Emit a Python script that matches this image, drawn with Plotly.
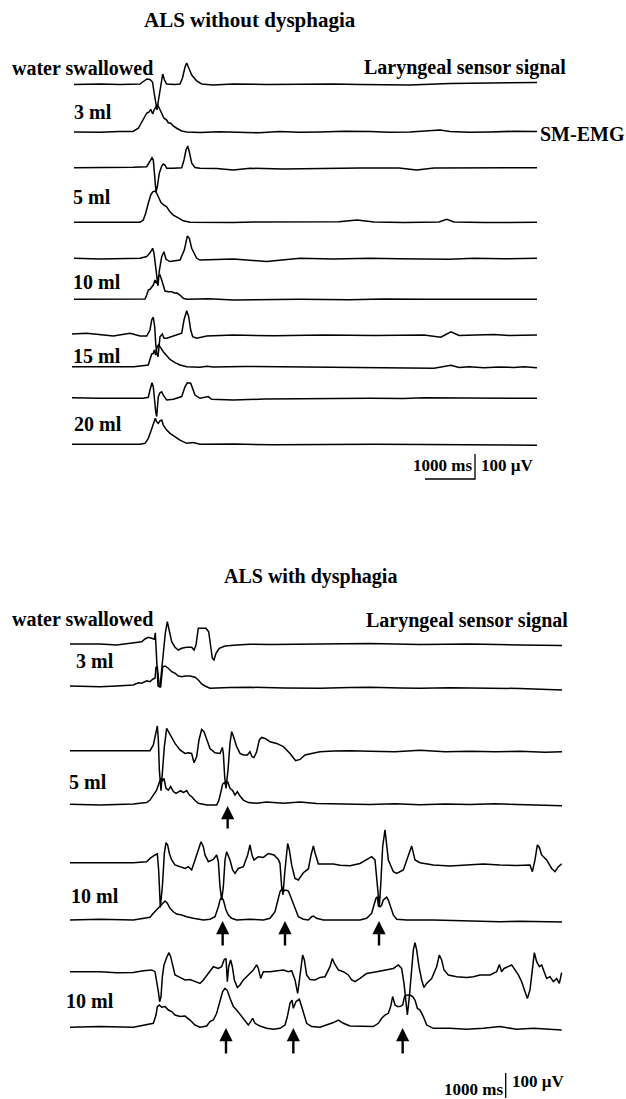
import plotly.graph_objects as go

# ===================== DATA (time in ms, amplitude in µV above each trace's baseline) =====================
# ---- ALS without dysphagia ----
top_lar_3ml_t = [0,520,920,1320,1400,1460,1520,1570,1600,1640,1660,1690,1740,1774,1810,1850,2020,2120,2170,2220,2254,2286,2354,2454,2554,2780,3180,3860,4520,5180,5720,6720,7520,8520,9260]
top_lar_3ml_v = [-2,0,-2,0,12,20,18,8,-32,-96,-104,-64,8,40,16,0,-2,0,24,68,84,68,36,12,0,-4,0,-2,0,0,-2,-4,2,4,6]
top_emg_3ml_t = [0,520,900,1180,1286,1354,1400,1454,1506,1534,1574,1600,1640,1666,1706,1754,1800,1854,1886,1934,1986,2054,2154,2254,2520,2900,3320,3700,4120,4500,4920,5400,5920,6300,6720,7120,7320,7520,7900,8320,8800,9260]
top_emg_3ml_v = [0,-1,2,2,15,41,59,75,81,91,72,88,101,112,95,75,55,48,37,35,24,15,4,0,-2,1,0,-3,2,-1,0,3,2,-1,0,4,8,2,-1,0,3,2]
top_lar_5ml_t = [0,520,1180,1454,1520,1560,1586,1606,1626,1640,1666,1706,1754,1786,1820,1854,1986,2154,2200,2240,2274,2306,2354,2420,2520,2854,3186,3520,4186,4920,5720,6500,6854,7200,8000,8600,9260]
top_lar_5ml_v = [1,1,3,5,25,41,32,-8,-61,-95,-75,-21,8,16,12,-1,-1,1,32,72,88,65,19,2,-1,-2,-8,-1,-4,-1,0,0,-8,0,1,-1,1]
top_emg_5ml_t = [0,520,1320,1386,1434,1486,1534,1574,1620,1654,1694,1740,1800,1854,1920,1986,2086,2186,2320,2800,3186,3600,4000,4600,5300,5660,6000,6600,7300,7454,7600,8200,8800,9260]
top_emg_5ml_v = [0,-1,0,9,36,76,109,122,125,116,96,79,69,62,42,29,18,6,0,-2,-1,1,1,-1,2,9,1,-1,1,12,1,-1,1,0]
top_lar_10ml_t = [0,520,1320,1454,1520,1574,1600,1626,1654,1680,1706,1754,1800,1840,1920,2120,2206,2266,2306,2354,2454,2520,2854,3186,3854,4520,5180,5920,6500,7000,7500,8000,8600,9260]
top_lar_10ml_v = [0,-3,0,7,22,40,20,-20,-60,-110,-50,6,26,-4,-13,-7,33,89,80,40,0,-7,-5,-3,-13,0,-3,0,-2,-3,-4,0,-2,0]
top_emg_10ml_t = [0,520,1420,1454,1486,1520,1554,1586,1620,1654,1686,1720,1754,1786,1820,1886,1954,2020,2054,2120,2186,2254,2700,3186,3800,4520,5500,6200,7000,7800,8600,9260]
top_emg_10ml_v = [0,0,1,17,37,40,48,57,77,64,90,97,77,57,33,30,30,24,26,17,4,0,2,-3,-1,0,-2,1,0,-1,1,0]
top_lar_15ml_t = [-40,254,786,986,1120,1320,1454,1520,1554,1586,1614,1634,1654,1680,1720,1766,1800,1854,1986,2154,2200,2254,2294,2334,2374,2454,2654,3186,4000,5000,6000,7000,7334,7540,7700,8000,8400,8700,9260]
top_lar_15ml_v = [4,7,-4,4,7,-4,-4,20,60,71,33,-33,-73,-87,-7,4,-13,-13,-4,7,60,97,73,20,-7,-13,-4,0,-3,0,-2,0,-9,13,-2,0,2,-2,0]
top_emg_15ml_t = [-40,600,1200,1486,1520,1554,1586,1606,1634,1654,1686,1720,1786,1854,1920,2020,2120,2254,2520,2660,2780,3400,4000,4600,5180,6000,6600,7200,7540,7700,7900,8200,8500,8800,9000,9260]
top_emg_15ml_v = [0,1,0,7,34,51,53,67,47,73,87,80,60,43,29,16,7,0,-2,2,-1,1,0,-1,-3,-3,-4,-6,6,-3,0,-4,-1,-3,0,-4]
top_lar_20ml_t = [-40,520,1386,1486,1520,1560,1586,1606,1634,1654,1686,1720,1754,1786,1854,1986,2154,2220,2266,2334,2374,2420,2520,2686,2754,3186,3800,4520,5200,5920,6600,7000,7800,8500,9260]
top_lar_20ml_v = [2,0,0,4,33,62,46,-7,-53,-73,6,22,26,13,-7,-4,7,46,62,60,40,13,0,7,-4,-7,-3,-2,1,0,-1,2,1,0,0]
top_emg_20ml_t = [-40,600,1320,1420,1486,1534,1574,1600,1626,1654,1686,1720,1754,1786,1854,1920,2020,2120,2254,2386,2520,3200,4000,5000,6000,7000,8000,9260]
top_emg_20ml_v = [0,-1,0,4,24,50,70,90,104,90,84,94,97,77,57,44,30,17,4,7,0,1,-2,0,0,-1,-3,-4]

# ---- ALS with dysphagia ----
bot_lar_3ml_t = [0,600,934,1266,1434,1500,1566,1634,1686,1706,1734,1760,1800,1854,1906,1946,1986,2034,2100,2166,2234,2334,2434,2480,2520,2566,2634,2720,2774,2806,2846,2880,2920,2986,3100,3334,3600,4000,5000,6000,7000,8000,9000,9840]
bot_lar_3ml_v = [0,0,-4,3,9,20,27,23,19,45,-64,-168,-171,-64,43,89,49,9,-13,-24,-17,-13,-13,-24,-4,63,63,63,49,3,-57,-64,-37,-17,-8,-4,-1,-2,0,2,-2,0,-4,-6]
bot_emg_3ml_t = [0,600,934,1266,1366,1434,1534,1600,1654,1700,1720,1746,1786,1814,1854,1900,1966,2034,2100,2166,2234,2300,2400,2500,2566,2634,2700,2800,3200,3600,4300,5000,5600,6000,6600,7000,7600,8000,8600,9000,9840]
bot_emg_3ml_v = [0,-3,0,4,13,11,21,17,27,31,75,77,-3,-3,77,80,71,57,51,40,37,40,40,35,24,8,0,-9,-6,-5,-8,-9,-6,-5,-8,-9,-7,-8,-10,-10,-16]
bot_lar_5ml_t = [0,600,1267,1600,1667,1720,1747,1767,1787,1820,1853,1887,1933,2000,2100,2200,2300,2367,2433,2480,2533,2580,2633,2680,2733,2800,2900,3000,3047,3067,3093,3120,3160,3200,3233,3267,3333,3400,3467,3547,3600,3640,3680,3733,3787,3833,3900,4000,4133,4267,4400,4513,4600,4700,4833,5000,5267,5600,6000,6500,7000,7500,8000,8500,9000,9500,9840]
bot_lar_5ml_v = [0,0,-1,0,23,69,99,43,-77,-160,-77,16,89,63,29,3,-11,-8,-11,-48,-24,43,85,76,43,9,-8,-11,13,-11,-104,-151,-77,29,76,59,16,-11,-17,-17,-4,-24,-27,-4,43,53,49,36,29,16,-11,-40,-35,-17,-11,-4,-1,0,-2,-4,2,-4,-2,-4,-2,-6,-4]
bot_emg_5ml_t = [0,600,1267,1533,1600,1667,1733,1780,1820,1853,1880,1920,1967,2013,2067,2120,2167,2213,2267,2333,2387,2433,2500,2567,2733,2933,2980,3013,3053,3087,3120,3153,3200,3253,3300,3347,3400,3467,3567,3733,3933,4267,4600,4933,5600,6000,6500,7000,7500,8000,8500,9000,9500,9840]
bot_emg_5ml_v = [0,-3,1,7,17,37,57,84,104,95,104,64,57,71,51,44,51,55,47,55,37,31,15,4,-3,-3,17,51,81,87,77,91,64,55,37,51,33,17,7,4,9,4,9,3,1,-1,2,-2,1,-1,2,-2,-4,-6]
bot_lar_10ml_a_t = [0,600,933,1267,1533,1600,1700,1747,1773,1807,1847,1887,1920,1953,1987,2033,2100,2200,2300,2367,2433,2500,2567,2620,2667,2700,2767,2867,2933,2967,3000,3033,3067,3100,3133,3200,3253,3300,3367,3467,3553,3600,3640,3680,3767,3867,3967,4080,4167,4200,4233,4260,4293,4327,4353,4387,4433,4500,4567,4667,4767,4820,4867,4900,4967,5100,5267,5400,5600,5800,6033,6100,6147,6187,6220,6253,6300,6340,6367,6467,6533,6667,6800,6833,6900,7000,7267,7600,7933,8267,8600,8933,9200,9247,9300,9347,9387,9433,9533,9633,9700,9767,9833]
bot_lar_10ml_a_v = [0,0,3,0,4,17,31,35,-29,-179,-96,37,80,71,37,11,-9,-16,-23,-16,-29,11,57,84,64,31,4,13,31,4,-96,-149,-96,11,44,11,-29,-43,-23,-16,31,71,31,11,24,21,37,31,13,-3,-96,-129,-43,37,77,51,-9,-63,-69,-40,-25,30,67,40,-5,-5,-5,-10,-12,-3,24,11,-96,-176,-69,64,131,60,11,-36,-43,-29,51,67,11,0,-9,-13,-9,-5,-9,-11,-9,-36,11,71,61,31,11,-23,-36,-16,-5]
bot_emg_10ml_a_t = [0,600,1267,1533,1600,1667,1733,1787,1820,1867,1900,1947,2000,2067,2133,2233,2333,2467,2667,2800,2900,2967,3000,3033,3067,3120,3167,3233,3333,3600,3867,4000,4100,4167,4200,4247,4287,4320,4367,4400,4467,4520,4567,4667,4767,4833,4867,4933,5067,5600,5800,5933,6033,6080,6120,6147,6167,6200,6233,6267,6300,6333,6367,6413,6467,6533,6733,7267,7933,8600,9000,9400,9840]
bot_emg_10ml_a_v = [0,3,0,7,11,27,40,51,60,67,76,67,47,33,24,20,13,7,0,3,13,53,80,91,80,40,20,7,0,3,0,7,33,87,113,127,117,120,116,100,67,40,13,3,0,13,16,7,0,0,0,7,27,60,87,93,56,53,60,80,87,91,80,53,20,3,0,0,-3,-7,-5,-6,-8]
bot_lar_10ml_b_t = [0,600,933,1267,1467,1633,1700,1733,1767,1793,1820,1847,1880,1933,1980,2013,2053,2100,2200,2300,2400,2500,2600,2667,2767,2867,2967,3033,3080,3120,3147,3173,3213,3247,3287,3347,3400,3467,3567,3667,3733,3767,3813,3867,4000,4133,4267,4367,4433,4500,4553,4580,4620,4653,4687,4733,4800,4900,5000,5100,5200,5247,5287,5367,5467,5567,5633,5700,5800,5933,6133,6333,6467,6567,6633,6680,6720,6747,6787,6833,6867,6900,6933,6980,7033,7080,7133,7233,7333,7387,7433,7480,7567,7733,7933,8067,8200,8400,8533,8587,8633,8680,8767,8833,8900,8967,9033,9100,9147,9200,9253,9287,9333,9387,9433,9480,9533,9600,9667,9733,9787,9833]
bot_lar_10ml_b_v = [0,0,-4,-3,4,7,0,-33,-80,-120,-100,-20,27,57,76,60,20,-13,-23,-33,-31,-40,-47,-33,-7,20,13,20,47,53,-40,20,47,20,-33,-63,-53,-33,-13,7,27,13,-27,0,0,4,7,0,4,-33,-87,-47,20,67,47,-13,-31,-33,-23,-20,20,53,33,7,0,-13,-33,-40,-27,-7,0,7,13,27,13,-47,-113,-173,-100,20,87,116,87,20,-33,-63,-47,-27,20,67,47,7,-13,-20,-23,-20,-13,-13,0,29,0,13,20,27,7,-13,-40,-80,-107,-73,20,76,40,20,27,0,-27,-20,-40,-27,-47,-4]
bot_emg_10ml_b_t = [0,600,1267,1400,1533,1667,1720,1747,1787,1833,1900,1967,2033,2100,2200,2300,2400,2500,2600,2733,2800,2867,2933,3000,3053,3100,3147,3200,3267,3333,3413,3500,3567,3613,3653,3700,3800,3933,4067,4200,4300,4347,4400,4440,4467,4520,4587,4633,4680,4733,4833,5000,5267,5367,5467,5600,6067,6167,6233,6300,6367,6413,6453,6500,6547,6600,6653,6693,6747,6800,6853,6900,6947,7000,7067,7133,7267,7600,7933,8267,8600,8933,9267,9833]
bot_emg_10ml_b_v = [0,3,0,5,9,16,49,83,89,80,83,69,63,49,43,45,29,9,0,5,23,29,56,109,143,156,147,116,83,69,49,23,9,23,36,16,5,-4,-8,-4,9,43,96,109,76,103,112,83,49,16,3,0,19,29,16,5,3,16,36,49,56,83,123,89,83,83,89,125,129,129,123,109,76,69,43,9,-4,-4,-8,-4,3,-8,-4,-11]

# aspiration arrows (ms) under the bottom EMG traces
arrows_5ml_t = [3153]
arrows_10ml_a_t = [3053, 4300, 6180]
arrows_10ml_b_t = [3120, 4467, 6653]

# scale bars
scale_ms = 1000
scale_uv = 100

# ===================== LAYOUT (pixel placement) =====================
W, H = 626, 1099
UV_PER_PX = 4.0          # vertical: 100 µV = 25 px
MS_PER_PX = 20.0         # horizontal: 1000 ms = 50 px
TOP_X0, BOT_X0 = 74, 70  # pixel x of t = 0 in each panel

def yoff(px):
    return -UV_PER_PX * px

traces = [
    ("x", top_lar_3ml_t, top_lar_3ml_v, 84),
    ("x", top_emg_3ml_t, top_emg_3ml_v, 132),
    ("x", top_lar_5ml_t, top_lar_5ml_v, 168),
    ("x", top_emg_5ml_t, top_emg_5ml_v, 222.3),
    ("x", top_lar_10ml_t, top_lar_10ml_v, 258.3),
    ("x", top_emg_10ml_t, top_emg_10ml_v, 299.3),
    ("x", top_lar_15ml_t, top_lar_15ml_v, 335),
    ("x", top_emg_15ml_t, top_emg_15ml_v, 366.7),
    ("x", top_lar_20ml_t, top_lar_20ml_v, 398.3),
    ("x", top_emg_20ml_t, top_emg_20ml_v, 444.3),
    ("x2", bot_lar_3ml_t, bot_lar_3ml_v, 644),
    ("x2", bot_emg_3ml_t, bot_emg_3ml_v, 686),
    ("x2", bot_lar_5ml_t, bot_lar_5ml_v, 750.7),
    ("x2", bot_emg_5ml_t, bot_emg_5ml_v, 804.3),
    ("x2", bot_lar_10ml_a_t, bot_lar_10ml_a_v, 862.7),
    ("x2", bot_emg_10ml_a_t, bot_emg_10ml_a_v, 920),
    ("x2", bot_lar_10ml_b_t, bot_lar_10ml_b_v, 971.7),
    ("x2", bot_emg_10ml_b_t, bot_emg_10ml_b_v, 1027.3),
]

fig = go.Figure()
LINE = dict(color="black", width=1.5)
for xa, t, v, base in traces:
    off = yoff(base)
    fig.add_trace(go.Scatter(x=t, y=[off + a for a in v], xaxis=xa, yaxis="y",
                             mode="lines", line=LINE, hoverinfo="skip"))

# scale bars
top_bar_end = (475 - TOP_X0) * MS_PER_PX
top_bar_y = yoff(479)
fig.add_trace(go.Scatter(x=[top_bar_end - scale_ms, top_bar_end, top_bar_end],
                         y=[top_bar_y, top_bar_y, top_bar_y + scale_uv],
                         xaxis="x", yaxis="y", mode="lines",
                         line=dict(color="black", width=1.3), hoverinfo="skip"))
bot_bar_x = (505.7 - BOT_X0) * MS_PER_PX
bot_bar_y = yoff(1098)
fig.add_trace(go.Scatter(x=[bot_bar_x, bot_bar_x], y=[bot_bar_y, bot_bar_y + scale_uv],
                         xaxis="x2", yaxis="y", mode="lines",
                         line=dict(color="black", width=1.3), hoverinfo="skip"))

annotations = []
def arrow(t, tip_px, tail_px):
    annotations.append(dict(x=t, y=yoff(tip_px), ax=t, ay=yoff(tail_px),
                            xref="x2", yref="y", axref="x2", ayref="y",
                            text="", showarrow=True, arrowhead=2, arrowsize=1.1,
                            arrowwidth=2.4, arrowcolor="black"))
for t in arrows_5ml_t:
    arrow(t, 806, 830)
for t in arrows_10ml_a_t:
    arrow(t, 921, 947)
for t in arrows_10ml_b_t:
    arrow(t, 1028, 1055)

FONT = "Liberation Serif, Times New Roman, serif"
def label(txt, px, py, size=20, anchor="left"):
    annotations.append(dict(text=txt, x=px / W, y=1 - py / H, xref="paper", yref="paper",
                            xanchor=anchor, yanchor="middle", showarrow=False,
                            font=dict(family=FONT, size=size, color="black", weight="bold")))

label("ALS without dysphagia", 250, 20, 21, "center")
label("water swallowed", 10, 68)
label("Laryngeal sensor signal", 362, 68)
label("3 ml", 72, 112)
label("SM-EMG", 538, 134)
label("5 ml", 71, 197)
label("10 ml", 71, 282)
label("15 ml", 71, 356)
label("20 ml", 72, 424)
label("1000 ms", 411, 465, 17)
label("100 µV", 479, 465, 17)

label("ALS with dysphagia", 310, 576, 20, "center")
label("water swallowed", 10, 619)
label("Laryngeal sensor signal", 364, 620)
label("3 ml", 74, 661)
label("5 ml", 67, 782)
label("10 ml", 69, 896)
label("10 ml", 64, 1001)
label("1000 ms", 442, 1089, 17)
label("100 µV", 510, 1081, 17)

fig.update_layout(
    width=W, height=H, margin=dict(l=0, r=0, t=0, b=0),
    paper_bgcolor="white", plot_bgcolor="white", showlegend=False,
    xaxis=dict(range=[-TOP_X0 * MS_PER_PX, (W - TOP_X0) * MS_PER_PX], visible=False, domain=[0, 1]),
    xaxis2=dict(range=[-BOT_X0 * MS_PER_PX, (W - BOT_X0) * MS_PER_PX], visible=False,
                overlaying="x", anchor="y"),
    yaxis=dict(range=[yoff(H), 0], visible=False, domain=[0, 1]),
    annotations=annotations,
)
fig.write_html("out.html", config={"displayModeBar": False})
